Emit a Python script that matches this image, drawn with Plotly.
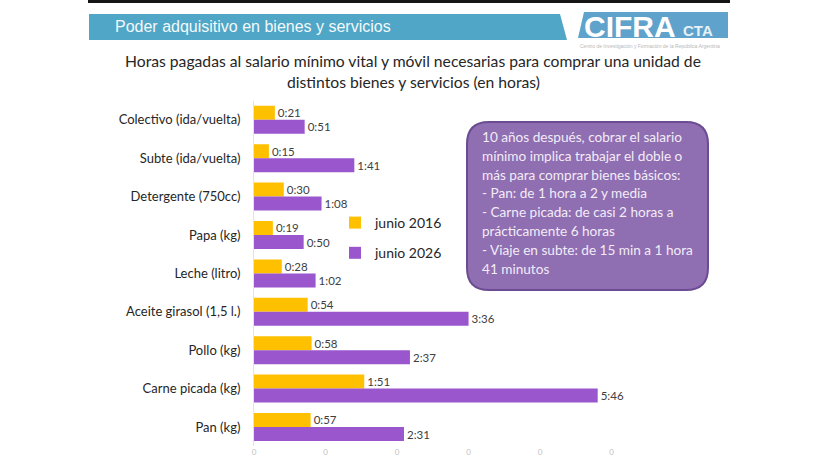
import plotly.graph_objects as go

W, H = 819, 460

categories = ["Colectivo (ida/vuelta)", "Subte (ida/vuelta)", "Detergente (750cc)",
              "Papa (kg)", "Leche (litro)", "Aceite girasol (1,5 l.)", "Pollo (kg)",
              "Carne picada (kg)", "Pan (kg)"]
junio_2016 = ["0:21", "0:15", "0:30", "0:19", "0:28", "0:54", "0:58", "1:51", "0:57"]
junio_2026 = ["0:51", "1:41", "1:08", "0:50", "1:02", "3:36", "2:37", "5:46", "2:31"]
series_names = ["junio 2016", "junio 2026"]
tick_hours = [0, 1.2, 2.4, 3.6, 4.8, 6.0]
tick_labels = ["0", "0", "0", "0", "0", "0"]
note_lines = ["10 años después, cobrar el salario",
              "mínimo implica trabajar el doble o",
              "más para comprar bienes básicos:",
              "- Pan: de 1 hora a 2 y media",
              "- Carne picada: de casi 2 horas a",
              "prácticamente 6 horas",
              "- Viaje en subte: de 15 min a 1 hora",
              "41 minutos"]
title_lines = ["Horas pagadas al salario mínimo vital y móvil necesarias para comprar una unidad de",
               "distintos bienes y servicios (en horas)"]
header_text = "Poder adquisitivo en bienes y servicios"


def to_hours(s):
    h, m = s.split(":")
    return int(h) + int(m) / 60.0


def X(px):
    return px / W


def Y(py):
    return 1 - py / H


FONT = "Lato"
colors = ["#FFC000", "#9A57CD"]

fig = go.Figure()
for name, vals, col in zip(series_names, [junio_2016, junio_2026], colors):
    fig.add_trace(go.Bar(
        y=categories, x=[to_hours(v) for v in vals], name=name, orientation="h",
        marker=dict(color=col, line=dict(width=0)),
        text=vals, textposition="outside", cliponaxis=False,
        textfont=dict(family=FONT, size=11.5, color="#404040"),
        legendgroup=name,
    ))

x_left, x_right = 254, 700
px_per_hour = 59.6
y_top, y_bot = 100.6, 446.2

fig.update_layout(
    template="none",
    width=W, height=H,
    margin=dict(l=0, r=0, t=0, b=0),
    paper_bgcolor="white", plot_bgcolor="white",
    barmode="group", bargap=0.27, bargroupgap=0,
    showlegend=True,
    legend=dict(x=X(335), y=Y(207), xanchor="left", yanchor="top",
                font=dict(family=FONT, size=14, color="#262626"),
                bgcolor="rgba(0,0,0,0)", tracegroupgap=9, traceorder="grouped"),
    xaxis=dict(domain=[X(x_left), X(x_right)],
               range=[0, (x_right - x_left) / px_per_hour],
               tickvals=tick_hours, ticktext=tick_labels,
               tickfont=dict(family=FONT, size=8, color="#c0c0c0"),
               showgrid=False, zeroline=False, showline=False, ticks="",
               automargin=False),
    yaxis=dict(domain=[Y(y_bot), Y(y_top)], autorange="reversed",
               type="category",
               tickfont=dict(family=FONT, size=13, color="#262626"),
               showgrid=False, zeroline=False, showline=True,
               linecolor="#e3e3e3", linewidth=1, ticks="",
               ticklabelstandoff=10, automargin=False),
)

shapes = []
# top black line
shapes.append(dict(type="rect", xref="paper", yref="paper",
                   x0=X(88), x1=X(730), y0=Y(3), y1=Y(0),
                   fillcolor="#151515", line=dict(width=0), layer="below"))
# header band
shapes.append(dict(type="path", xref="paper", yref="paper",
                   path=f"M {X(89)} {Y(14)} L {X(560)} {Y(14)} L {X(567)} {Y(40)} L {X(89)} {Y(40)} Z",
                   fillcolor="#4FA6C6", line=dict(width=0), layer="below"))
# logo background
shapes.append(dict(type="path", xref="paper", yref="paper",
                   path=f"M {X(584)} {Y(12)} L {X(728)} {Y(12)} L {X(728)} {Y(38)} L {X(578)} {Y(38)} Z",
                   fillcolor="#5FA3CC", line=dict(width=0), layer="below"))
# rounded note box
x0, x1, y0, y1, r = 467, 708, 122, 290, 22
p = (f"M {X(x0 + r)} {Y(y0)} L {X(x1 - r)} {Y(y0)} "
     f"Q {X(x1)} {Y(y0)} {X(x1)} {Y(y0 + r)} L {X(x1)} {Y(y1 - r)} "
     f"Q {X(x1)} {Y(y1)} {X(x1 - r)} {Y(y1)} L {X(x0 + r)} {Y(y1)} "
     f"Q {X(x0)} {Y(y1)} {X(x0)} {Y(y1 - r)} L {X(x0)} {Y(y0 + r)} "
     f"Q {X(x0)} {Y(y0)} {X(x0 + r)} {Y(y0)} Z")
shapes.append(dict(type="path", xref="paper", yref="paper", path=p,
                   fillcolor="#8F6EB2", line=dict(color="#6B4C93", width=2), layer="above"))
fig.update_layout(shapes=shapes)

ann = []
ann.append(dict(text=header_text, x=X(113), y=Y(27), xref="paper", yref="paper",
                xanchor="left", yanchor="middle", showarrow=False,
                font=dict(family="Liberation Sans", size=16, color="#F3F9FC")))
ann.append(dict(text="<b>CIFRA</b>", x=X(582), y=Y(26), xref="paper", yref="paper",
                xanchor="left", yanchor="middle", showarrow=False,
                font=dict(family="Liberation Sans", size=30, color="white")))
ann.append(dict(text="<b>CTA</b>", x=X(681), y=Y(31), xref="paper", yref="paper",
                xanchor="left", yanchor="middle", showarrow=False,
                font=dict(family="Liberation Sans", size=15, color="#E6F1F8")))
ann.append(dict(text="Centro de Investigación y Formación de la República Argentina",
                x=X(650), y=Y(46), xref="paper", yref="paper",
                xanchor="center", yanchor="middle", showarrow=False,
                font=dict(family="Liberation Sans", size=5, color="#B8B8B8")))
for i, line in enumerate(title_lines):
    ann.append(dict(text=line, x=X(413), y=Y(61 + 21 * i), xref="paper", yref="paper",
                    xanchor="center", yanchor="middle", showarrow=False,
                    font=dict(family=FONT, size=15.7, color="#262626")))
for i, line in enumerate(note_lines):
    ann.append(dict(text=line, x=X(480), y=Y(137 + 18.8 * i), xref="paper", yref="paper",
                    xanchor="left", yanchor="middle", showarrow=False,
                    font=dict(family=FONT, size=13.6, color="#F2ECF7")))
fig.update_layout(annotations=ann)

fig.write_html("out.html")
